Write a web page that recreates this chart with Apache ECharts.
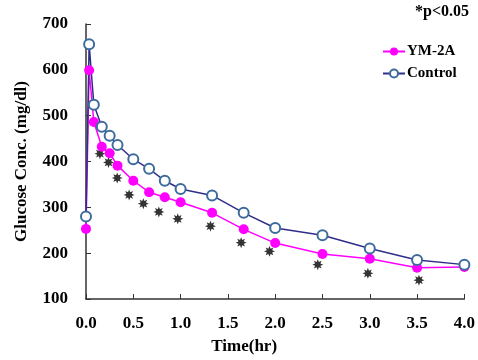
<!DOCTYPE html>
<html>
<head>
<meta charset="utf-8">
<script src="https://cdn.jsdelivr.net/npm/echarts@6/dist/echarts.min.js"></script>
<style>
    html, body { margin: 0; padding: 0; background: #fff; }
    #main { width: 478px; height: 360px; }
</style>
</head>
<body>
<div id="main"></div>
<script>
// time points (hr)
var timeControl = [0, 0.033, 0.083, 0.167, 0.25, 0.333, 0.5, 0.667, 0.833, 1.0, 1.333, 1.667, 2.0, 2.5, 3.0, 3.5, 4.0];
var valControl = [280, 656, 524, 476, 456, 436, 405, 384, 358, 340, 326, 288, 255, 239, 210, 185, 175];

var timeYM = [0, 0.033, 0.083, 0.167, 0.25, 0.333, 0.5, 0.667, 0.833, 1.0, 1.333, 1.667, 2.0, 2.5, 3.0, 3.5, 4.0];
var valYM = [253, 599, 486, 432, 418, 391, 358, 333, 322, 311, 288, 252, 222, 198, 188, 168, 170];

// significance markers (*p<0.05)
var starTime = [0.147, 0.238, 0.33, 0.456, 0.606, 0.77, 0.97, 1.316, 1.64, 1.94, 2.45, 2.98, 3.52];
var starVal = [417, 398, 364, 327, 308, 290, 275, 259, 223, 204, 175, 156, 141];

function pairs(xs, ys) {
    var out = [];
    for (var i = 0; i < xs.length; i++) out.push([xs[i], ys[i]]);
    return out;
}

var font = 'Liberation Serif';
var starPath = 'path://M50 0 L60 26 L85 15 L74 40 L100 50 L74 60 L85 85 L60 74 L50 100 L40 74 L15 85 L26 60 L0 50 L26 40 L15 15 L40 26 Z';

var myChart = echarts.init(document.getElementById('main'));
var option = {
    backgroundColor: '#fff',
    animation: false,
    title: {
        text: '*p<0.05',
        right: 9,
        top: 4,
        padding: 0,
        textStyle: { fontFamily: font, fontWeight: 'bold', fontSize: 16, color: '#000' }
    },
    legend: {
        orient: 'vertical',
        left: 382,
        top: 44,
        padding: 0,
        itemWidth: 22,
        itemHeight: 10,
        itemGap: 7,
        data: ['YM-2A', 'Control'],
        textStyle: { fontFamily: font, fontWeight: 'bold', fontSize: 15, color: '#000', padding: [0, 0, 0, -3] }
    },
    grid: { left: 86, right: 11, top: 24, bottom: 59 },
    xAxis: {
        type: 'value',
        min: 0,
        max: 4,
        interval: 0.5,
        name: 'Time(hr)',
        nameLocation: 'middle',
        nameGap: 39,
        nameTextStyle: { fontFamily: font, fontWeight: 'bold', fontSize: 17, color: '#000', padding: [0, 62, 0, 0] },
        axisLine: { lineStyle: { color: '#333', width: 1.5 } },
        axisTick: { inside: true, length: 5, lineStyle: { color: '#333' } },
        splitLine: { show: false },
        axisLabel: {
            margin: 16,
            fontFamily: font, fontWeight: 'bold', fontSize: 17, color: '#000',
            formatter: function (v) { return v.toFixed(1); }
        }
    },
    yAxis: {
        type: 'value',
        min: 100,
        max: 700,
        interval: 100,
        name: 'Glucose Conc. (mg/dl)',
        nameLocation: 'middle',
        nameGap: 56,
        nameTextStyle: { fontFamily: font, fontWeight: 'bold', fontSize: 17, color: '#000' },
        axisLine: { show: true, lineStyle: { color: '#333', width: 1.5 } },
        axisTick: { show: true, inside: true, length: 5, lineStyle: { color: '#333' } },
        splitLine: { show: false },
        axisLabel: {
            margin: 18,
            fontFamily: font, fontWeight: 'bold', fontSize: 17, color: '#000'
        }
    },
    series: [{
        name: 'YM-2A',
        type: 'line',
        data: pairs(timeYM, valYM),
        symbol: 'circle',
        symbolSize: 10,
        itemStyle: { color: '#ff00ff' },
        lineStyle: { color: '#ff00ff', width: 1.5 }
    }, {
        name: 'Control',
        type: 'line',
        data: pairs(timeControl, valControl),
        symbol: 'circle',
        symbolSize: 10,
        itemStyle: { color: '#fff', borderColor: '#3d6b9c', borderWidth: 2 },
        lineStyle: { color: '#2e2e8a', width: 1.5 }
    }, {
        name: 'sig',
        type: 'scatter',
        data: pairs(starTime, starVal),
        symbol: starPath,
        symbolSize: 11,
        itemStyle: { color: '#000' },
        z: 1
    }]
};
myChart.setOption(option);
</script>
</body>
</html>
